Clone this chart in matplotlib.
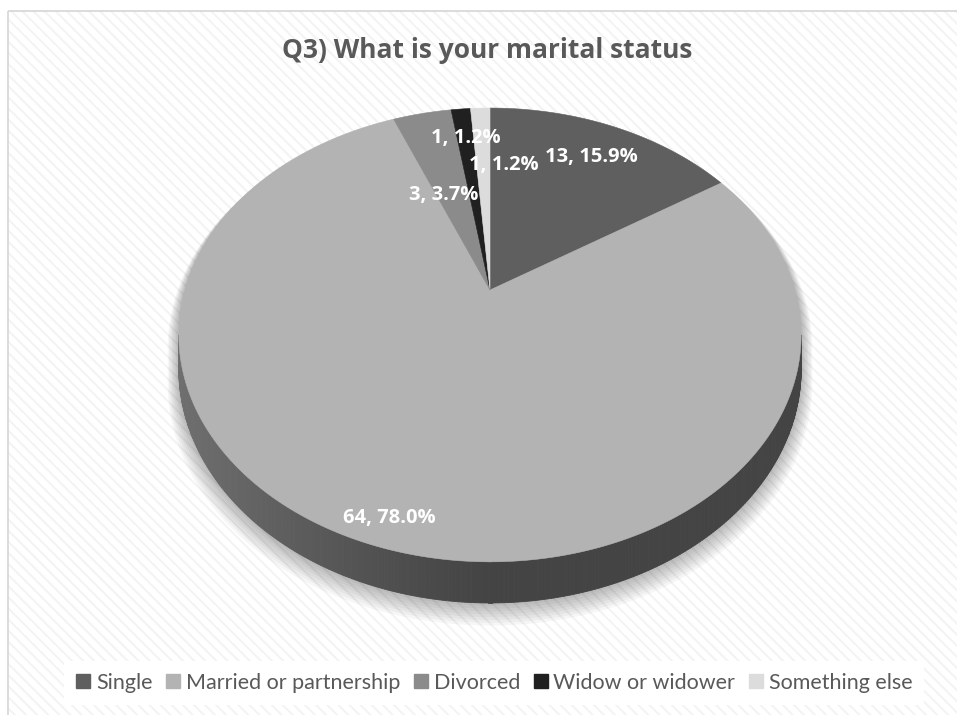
import numpy as np
import matplotlib
matplotlib.use('Agg')
from matplotlib import pyplot as plt
from matplotlib import patches as mpatch
from matplotlib.lines import Line2D

categories = ['Single', 'Married or partnership', 'Divorced',
              'Widow or widower', 'Something else']
counts = [13, 64, 3, 1, 1]
colors = ['#5f5f5f', '#b3b3b3', '#8b8b8b', '#202020', '#dcdcdc']
title = 'Q3) What is your marital status'

# label placement inside the pie (radius fraction, angle nudge in degrees)
label_r = [0.79, 0.91, 0.505, 0.815, 0.65]
label_nudge = [0, 0, -3.7, 0, 6.8]

# pie geometry in pixels (perspective ellipse)
CX, CY = 490, 290
RX, RY = 305, 218
K = 0.198
T0 = 33

plt.rcParams['hatch.linewidth'] = 1.4
plt.rcParams['font.family'] = ['Open Sans', 'DejaVu Sans']


def proj(theta, r=1.0):
    t = np.radians(theta)
    u = r * np.sin(t)
    v = r * np.cos(t)
    w = 1 + K * v
    return CX + RX * u / w, CY - RY * v / w


def thick(theta):
    return T0 / (1 + K * np.cos(np.radians(theta)))


fig = plt.figure(figsize=(9.57, 7.15), dpi=100)
ax = fig.add_axes([0, 0, 1, 1])
ax.set_xlim(0, 957)
ax.set_ylim(715, 0)
ax.axis('off')

# background with diagonal stripes and light frame
ax.add_patch(mpatch.Rectangle((8, 11), 960, 720, facecolor='white',
                              edgecolor='#f3f3f3', hatch='\\\\\\', lw=0, zorder=0))
ax.add_patch(mpatch.Rectangle((8, 11), 960, 720, fill=False,
                              edgecolor='#d6d6d6', lw=1.2, zorder=0.5))

total = sum(counts)
angles = np.cumsum([0] + [c / total * 360 for c in counts])
th_r = np.degrees(np.arccos(-K))
th_l = 360 - th_r

# soft shadow
back = np.linspace(th_l, th_r + 360, 200)
front = np.linspace(th_r, th_l, 200)
bx, by = proj(back)
fx, fy = proj(front)
fy = fy + thick(front)
sx = np.concatenate([bx, fx])
sy = np.concatenate([by, fy])
for i in range(8, 0, -1):
    s = 1 + 0.0045 * i
    ax.add_patch(mpatch.Polygon(np.column_stack([CX + (sx - CX) * s,
                                                 CY + 20 + (sy - CY - 20) * s + 1.5 * i]),
                                closed=True, facecolor='black', edgecolor='none',
                                alpha=0.035, zorder=1))

# sides of the slices on the visible front
for i in range(len(counts)):
    a0, a1 = angles[i], angles[i + 1]
    lo, hi = max(a0, th_r), min(a1, th_l)
    if hi <= lo:
        continue
    base = int(colors[i][1:3], 16)
    ts = np.linspace(lo, hi, int((hi - lo) * 2) + 2)
    for ta, tb in zip(ts[:-1], ts[1:]):
        x0, y0 = proj(ta)
        x1, y1 = proj(tb)
        xm = (x0 + x1) / 2
        f = max(0.0, (CX - xm) / 310) ** 1.2
        g = (0.38 + 0.24 * f) * base / 255
        quad = [(x0, y0), (x1, y1), (x1, y1 + thick(tb)), (x0, y0 + thick(ta))]
        ax.add_patch(mpatch.Polygon(quad, closed=True, facecolor=(g, g, g),
                                    edgecolor=(g, g, g), lw=0.6, zorder=2))

# top faces
for i in range(len(counts)):
    a0, a1 = angles[i], angles[i + 1]
    ts = np.linspace(a0, a1, max(int(a1 - a0) * 2, 4))
    px, py = proj(ts)
    pts = np.column_stack([np.concatenate([[CX], px]), np.concatenate([[CY], py])])
    ax.add_patch(mpatch.Polygon(pts, closed=True, facecolor=colors[i],
                                edgecolor=colors[i], lw=0.4, zorder=3))

# data labels
for i, c in enumerate(counts):
    mid = (angles[i] + angles[i + 1]) / 2 + label_nudge[i]
    lx, ly = proj(mid, label_r[i])
    ax.text(lx, ly, f'{c}, {c / total * 100:.1f}%', ha='center', va='center',
            fontsize=14.5, fontweight='bold', color='white', zorder=5)

ax.text(487, 50, title, ha='center', va='center', fontsize=19,
        fontweight='bold', color='#595959', zorder=5)

handles = [Line2D([], [], marker='s', linestyle='none', markersize=10,
                  markerfacecolor=col, markeredgecolor=col) for col in colors]
leg = fig.legend(handles, categories, loc='center', ncol=5,
                 bbox_to_anchor=(494 / 957, 1 - 683 / 715),
                 prop={'family': 'Lato', 'size': 15.5},
                 frameon=True, facecolor='white', edgecolor='none', framealpha=1,
                 fancybox=False, handlelength=0.7, handletextpad=0.25,
                 columnspacing=0.6, borderpad=0.55, labelcolor='#595959')

fig.savefig('out.png', dpi=100)
